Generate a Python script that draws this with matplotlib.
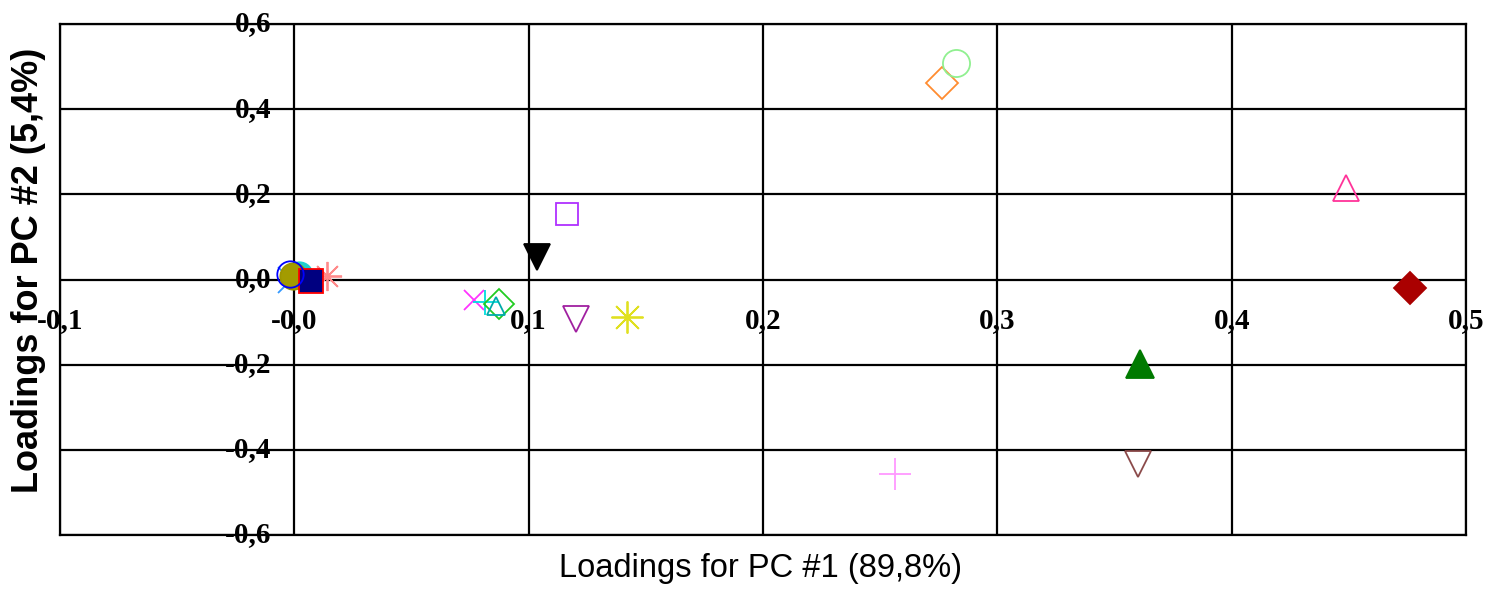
import matplotlib
matplotlib.use('Agg')
import matplotlib.pyplot as plt
from matplotlib.transforms import offset_copy

# loadings
pc1 = [-0.0015, 0.014, 0.002, -0.0005, 0.0072, -0.0017,
       0.0768, 0.0815, 0.0875, 0.086,
       0.1037, 0.1165, 0.120, 0.142,
       0.2766, 0.2825, 0.2565,
       0.361, 0.360, 0.449, 0.476]
pc2 = [0.0, 0.008, 0.01, 0.008, -0.004, 0.012,
       -0.047, -0.054, -0.058, -0.063,
       0.054, 0.153, -0.092, -0.087,
       0.461, 0.508, -0.456,
       -0.198, -0.433, 0.214, -0.021]

x_ticks = [-0.1, 0.0, 0.1, 0.2, 0.3, 0.4, 0.5]
x_tick_labels = ['-0,1', '-0,0', '0,1', '0,2', '0,3', '0,4', '0,5']
y_ticks = [0.6, 0.4, 0.2, 0.0, -0.2, -0.4, -0.6]
y_tick_labels = ['0,6', '0,4', '0,2', '0,0', '-0,2', '-0,4', '-0,6']

# marker, edge colour, face colour ('none' = hollow), size
styles = [
    ('x', '#3399ff', 'none', 19),
    ((8, 2, 0), '#ff8a8a', 'none', 21),
    ('o', '#20d0d0', '#20d0d0', 19),
    ('o', '#9c9400', '#a39b00', 19),
    ('s', '#ff0000', '#000080', 17),
    ('o', '#0000ff', 'none', 19),
    ('x', '#ff33ff', 'none', 14),
    ('+', '#00dddd', 'none', 18),
    ('D', '#22cc22', 'none', 15),
    ('^', '#00aaaa', 'none', 13),
    ('v', '#000000', '#000000', 19),
    ('s', '#b030ff', 'none', 16.5),
    ('v', '#a020a0', 'none', 19),
    ((8, 2, 0), '#e0e020', 'none', 23),
    ('D', '#ff8c30', 'none', 16),
    ('o', '#90f090', 'none', 19.5),
    ('+', '#ff99ff', 'none', 23),
    ('^', '#007a00', '#007a00', 20),
    ('v', '#8b4a4a', 'none', 19),
    ('^', '#ff3399', 'none', 19),
    ('D', '#aa0000', '#aa0000', 16),
]

fig = plt.figure(figsize=(14.86, 5.89), dpi=100)
ax = fig.add_axes([60 / 1486, 1 - 535 / 589, 1406 / 1486, 511 / 589])
ax.set_xlim(-0.1, 0.5)
ax.set_ylim(-0.6, 0.6)

ax.set_xticks(x_ticks)
ax.set_yticks(y_ticks)
ax.set_xticklabels([])
ax.set_yticklabels([])
ax.tick_params(length=0)
ax.grid(True, color='black', linewidth=1.6, zorder=0)
for s in ax.spines.values():
    s.set_linewidth(1.6)
    s.set_color('black')

for x, y, (m, ec, fc, ms) in zip(pc1, pc2, styles):
    ax.plot([x], [y], linestyle='none', marker=m, markersize=ms,
            markeredgecolor=ec, markerfacecolor=fc, markeredgewidth=1.3,
            zorder=3, clip_on=False)

tick_font = dict(family='Liberation Serif', fontweight='bold', fontsize=21)
xt = offset_copy(ax.transData, fig=fig, x=0, y=-41, units='dots')
for v, lab in zip(x_ticks, x_tick_labels):
    ax.text(v, 0, lab, transform=xt, ha='center', va='center', zorder=4, **tick_font)
yt = offset_copy(ax.transData, fig=fig, x=-23, y=0, units='dots')
for v, lab in zip(y_ticks, y_tick_labels):
    ax.text(0, v, lab, transform=yt, ha='right', va='center', zorder=4, **tick_font)

fig.text(0.512, 1 - 568 / 589, 'Loadings for PC #1 (89,8%)',
         family='Liberation Sans', fontsize=23.5, ha='center', va='center')
fig.text(29 / 1486, 1 - 270 / 589, 'Loadings for PC #2 (5,4%)',
         family='Liberation Sans', fontsize=26, fontweight='bold',
         rotation=90, ha='center', va='center')

fig.savefig('out.png', dpi=100)
